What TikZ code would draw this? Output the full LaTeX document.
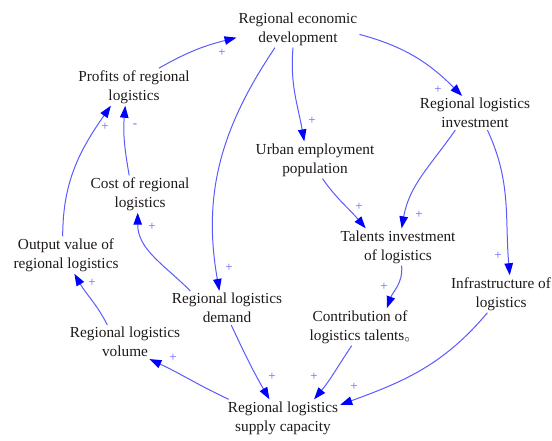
\documentclass[tikz,border=0pt]{standalone}
\usepackage{fontspec}
\setmainfont{Liberation Serif}
\usetikzlibrary{arrows.meta}
\definecolor{lnblue}{RGB}{90,90,255}
\definecolor{sgblue}{RGB}{100,100,255}
\definecolor{txt}{RGB}{30,25,25}
\begin{document}
\begin{tikzpicture}[x=1pt,y=1pt,
  var/.style={align=center,inner sep=2pt,text=txt,font=\fontsize{15.3}{19}\selectfont},
  arr/.style={draw=lnblue,line width=1pt,-{Triangle[length=12pt,width=8.5pt,fill=blue,color=blue]}},
  sgn/.style={text=sgblue,inner sep=0pt,font=\fontsize{13}{13}\selectfont}]
\useasboundingbox (0,0) rectangle (552,440);
\node[var] (reco) at (298,411) {Regional economic\\development};
\node[var] (prof) at (134,353) {Profits of regional\\logistics};
\node[var] (rli)  at (475,327) {Regional logistics\\investment};
\node[var] (uep)  at (315,280) {Urban employment\\population};
\node[var] (tal)  at (398,193) {Talents investment\\of logistics};
\node[var] (cost) at (140,246) {Cost of regional\\logistics};
\node[var] (outv) at (66,185)  {Output value of\\regional logistics};
\node[var] (dem)  at (227,132) {Regional logistics\\demand};
\node[var] (vol)  at (125,98)  {Regional logistics\\volume};
\node[var] (con)  at (360,113) {Contribution of\\logistics talents$_{\circ}$};
\node[var] (inf)  at (501,146) {Infrastructure of\\logistics};
\node[var] (sup)  at (283,22)  {Regional logistics\\supply capacity};

\draw[arr] (prof.37) to[out=30,in=194] (reco.188);
\draw[arr] (reco.-5) to[out=-15,in=135] (rli.127);
\draw[arr] (reco.-105) to[out=-95,in=100] (uep.120);
\draw[arr] (reco.219) to[out=236,in=100] (dem.114);
\draw[arr] (rli.221) to[out=235,in=80] (tal.79);
\draw[arr] (uep.-68) to[out=-55,in=130] (tal.150);
\draw[arr] (rli.-54) to[out=-65,in=95] (inf.65);
\draw[arr] (tal.-79) to[out=-85,in=70] (con.35);
\draw[arr] (con.-114) to[out=236,in=50] (sup.31);
\draw[arr] (inf.234) to[out=230,in=20] (sup.13);
\draw[arr] (dem.-76) to[out=-65,in=120] (sup.126);
\draw[arr] (sup.161) to[out=155,in=-25] (vol.-35);
\draw[arr] (vol.136) to[out=117,in=-60] (outv.-66);
\draw[arr] (dem.155) to[out=135,in=-90] (cost.-97);
\draw[arr] (cost.120) to[out=100,in=-95] (prof.-115);
\draw[arr] (outv.100) to[out=90,in=235] (prof.219);

\node[sgn] (s1) at (222,387) {+};
\node[sgn] (s2) at (438,350) {+};
\node[sgn] (s3) at (312,319) {+};
\node[sgn] (s4) at (229,172) {+};
\node[sgn] (s5) at (419,225) {+};
\node[sgn] (s6) at (359,233) {+};
\node[sgn] (s7) at (498,184) {+};
\node[sgn] (s8) at (384,153) {+};
\node[sgn] (s9) at (314,63) {+};
\node[sgn] (s10) at (354,53) {+};
\node[sgn] (s11) at (272,63) {+};
\node[sgn] (s12) at (173,82) {+};
\node[sgn] (s13) at (92,157) {+};
\node[sgn] (s14) at (152,213) {+};
\node[sgn] (s15) at (135,314) {-};
\node[sgn] (s16) at (105,313) {+};
\end{tikzpicture}
\end{document}
